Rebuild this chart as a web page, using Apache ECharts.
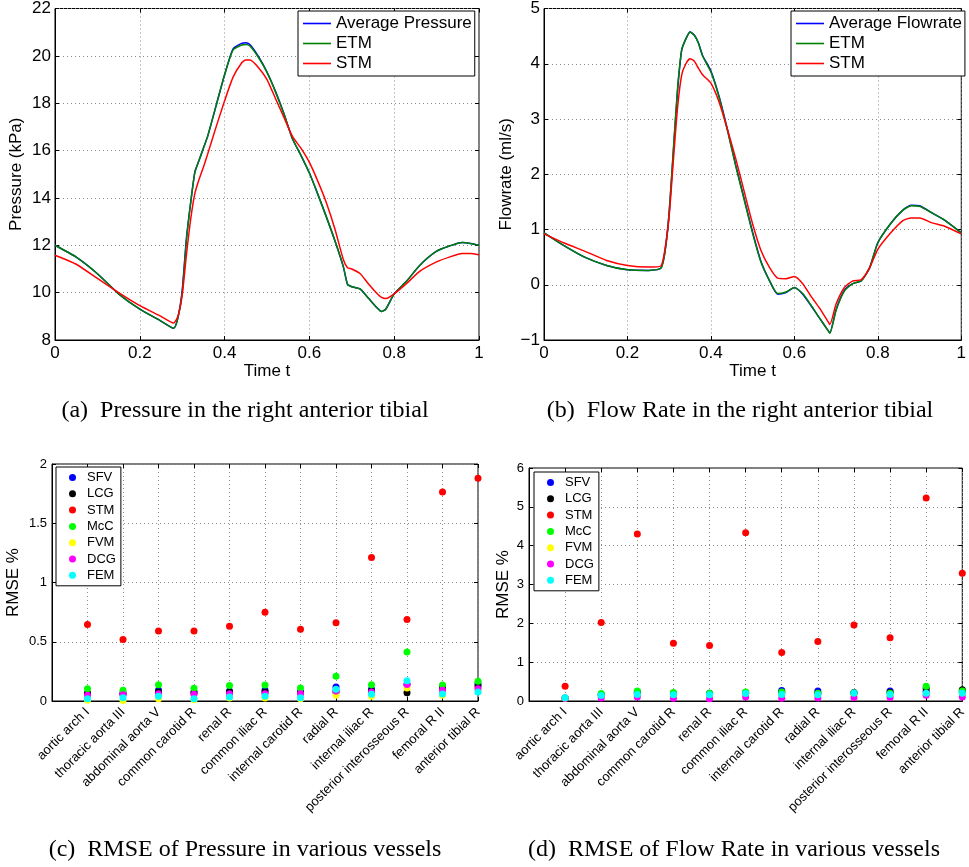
<!DOCTYPE html>
<html><head><meta charset="utf-8">
<script src="https://cdn.jsdelivr.net/npm/echarts@6/dist/echarts.min.js"></script>
<style>html,body{margin:0;padding:0;background:#fff}#c{width:969px;height:867px}</style>
</head><body><div id="c"></div>
<script>
// ---------- (a) Pressure ----------
const pressureTime = [0, 0.05, 0.1, 0.15, 0.2, 0.25, 0.28, 0.29, 0.3, 0.31, 0.32, 0.33, 0.34, 0.35, 0.36, 0.38, 0.4, 0.42, 0.44, 0.45, 0.46, 0.48, 0.5, 0.52, 0.54, 0.56, 0.58, 0.6, 0.62, 0.64, 0.66, 0.68, 0.69, 0.7, 0.72, 0.74, 0.76, 0.77, 0.78, 0.8, 0.83, 0.86, 0.9, 0.93, 0.96, 0.98, 1.0];
const avgPressure = [12.0, 11.5, 10.8, 9.95, 9.3, 8.8, 8.5, 8.95, 10.1, 12.3, 13.8, 15.1, 15.6, 16.1, 16.6, 17.9, 19.2, 20.3, 20.53, 20.55, 20.47, 19.97, 19.32, 18.5, 17.55, 16.5, 15.8, 15.05, 14.15, 13.2, 12.2, 11.1, 10.35, 10.25, 10.15, 9.75, 9.35, 9.2, 9.3, 9.95, 10.5, 11.15, 11.75, 11.97, 12.12, 12.08, 12.0];
const etmPressure = [12.0, 11.5, 10.8, 9.95, 9.3, 8.8, 8.5, 8.95, 10.0, 12.2, 13.8, 15.1, 15.6, 16.1, 16.6, 17.9, 19.2, 20.25, 20.46, 20.48, 20.42, 19.93, 19.3, 18.48, 17.55, 16.5, 15.8, 15.05, 14.15, 13.2, 12.2, 11.1, 10.35, 10.25, 10.15, 9.75, 9.35, 9.2, 9.3, 9.95, 10.5, 11.15, 11.75, 11.97, 12.12, 12.08, 12.0];
const stmPressure = [11.58, 11.2, 10.6, 10.0, 9.45, 9.0, 8.72, 9.0, 9.9, 11.6, 13.1, 14.2, 14.8, 15.3, 15.85, 17.0, 18.1, 19.1, 19.7, 19.82, 19.82, 19.5, 19.0, 18.2, 17.4, 16.6, 16.1, 15.5, 14.7, 13.8, 12.7, 11.4, 11.05, 11.0, 10.8, 10.35, 9.95, 9.8, 9.75, 9.95, 10.4, 10.9, 11.3, 11.5, 11.65, 11.65, 11.6];

// ---------- (b) Flow rate ----------
const flowTime = [0, 0.05, 0.1, 0.15, 0.2, 0.25, 0.28, 0.29, 0.3, 0.31, 0.32, 0.33, 0.34, 0.35, 0.36, 0.37, 0.38, 0.4, 0.42, 0.44, 0.46, 0.48, 0.5, 0.52, 0.54, 0.56, 0.58, 0.6, 0.62, 0.64, 0.66, 0.68, 0.685, 0.7, 0.72, 0.74, 0.76, 0.78, 0.8, 0.83, 0.86, 0.88, 0.9, 0.93, 0.96, 1.0];
const avgFlow = [0.94, 0.7, 0.49, 0.35, 0.27, 0.26, 0.3, 0.6, 1.3, 2.4, 3.5, 4.25, 4.45, 4.58, 4.52, 4.38, 4.15, 3.87, 3.4, 2.8, 2.15, 1.55, 0.95, 0.42, 0.08, -0.17, -0.14, -0.05, -0.17, -0.38, -0.6, -0.82, -0.87, -0.45, -0.1, 0.02, 0.07, 0.3, 0.76, 1.1, 1.35, 1.44, 1.43, 1.3, 1.17, 0.94];
const etmFlow = [0.94, 0.7, 0.49, 0.35, 0.27, 0.26, 0.3, 0.6, 1.32, 2.45, 3.55, 4.25, 4.45, 4.57, 4.52, 4.37, 4.14, 3.85, 3.38, 2.78, 2.13, 1.53, 0.93, 0.41, 0.08, -0.16, -0.13, -0.05, -0.16, -0.37, -0.6, -0.82, -0.88, -0.46, -0.11, 0.02, 0.07, 0.3, 0.76, 1.1, 1.35, 1.43, 1.42, 1.3, 1.17, 0.94];
const stmFlow = [0.92, 0.75, 0.6, 0.44, 0.35, 0.32, 0.34, 0.65, 1.25, 2.25, 3.2, 3.8, 4.0, 4.09, 4.05, 3.92, 3.8, 3.65, 3.3, 2.8, 2.27, 1.68, 1.1, 0.62, 0.32, 0.12, 0.11, 0.15, 0.02, -0.21, -0.42, -0.66, -0.72, -0.35, -0.05, 0.07, 0.09, 0.3, 0.64, 0.93, 1.16, 1.21, 1.21, 1.12, 1.06, 0.92];

// ---------- (c)/(d) RMSE ----------
const vessels = ['aortic arch I', 'thoracic aorta III', 'abdominal aorta V', 'common carotid R', 'renal R', 'common iliac R', 'internal carotid R', 'radial R', 'internal iliac R', 'posterior interosseous R', 'femoral R II', 'anterior tibial R'];
const methods = ['SFV', 'LCG', 'STM', 'McC', 'FVM', 'DCG', 'FEM'];

const pressureSFV = [0.06, 0.068, 0.09, 0.068, 0.085, 0.09, 0.076, 0.118, 0.1, 0.14, 0.118, 0.146];
const pressureLCG = [0.068, 0.06, 0.076, 0.076, 0.076, 0.076, 0.072, 0.076, 0.085, 0.07, 0.11, 0.127];
const pressureSTM = [0.645, 0.52, 0.59, 0.59, 0.63, 0.75, 0.605, 0.66, 1.21, 0.687, 1.763, 1.88];
const pressureMcC = [0.104, 0.09, 0.138, 0.107, 0.13, 0.135, 0.11, 0.208, 0.138, 0.414, 0.135, 0.166];
const pressureFVM = [0.006, 0.005, 0.02, 0.01, 0.025, 0.025, 0.02, 0.048, 0.04, 0.11, 0.048, 0.09];
const pressureDCG = [0.048, 0.053, 0.062, 0.056, 0.062, 0.062, 0.062, 0.085, 0.076, 0.14, 0.09, 0.104];
const pressureFEM = [0.02, 0.028, 0.04, 0.02, 0.034, 0.04, 0.028, 0.1, 0.056, 0.17, 0.06, 0.076];

const flowSFV = [0.08, 0.17, 0.23, 0.2, 0.2, 0.22, 0.27, 0.26, 0.22, 0.26, 0.25, 0.24];
const flowLCG = [0.07, 0.15, 0.2, 0.17, 0.17, 0.2, 0.22, 0.2, 0.2, 0.22, 0.32, 0.29];
const flowSTM = [0.38, 2.02, 4.3, 1.49, 1.43, 4.33, 1.25, 1.53, 1.96, 1.63, 5.23, 3.29];
const flowMcC = [0.08, 0.19, 0.26, 0.22, 0.2, 0.23, 0.23, 0.2, 0.21, 0.2, 0.38, 0.26];
const flowFVM = [0.07, 0.12, 0.15, 0.12, 0.12, 0.15, 0.15, 0.14, 0.15, 0.15, 0.18, 0.16];
const flowDCG = [0.07, 0.08, 0.1, 0.07, 0.06, 0.1, 0.07, 0.08, 0.09, 0.09, 0.15, 0.1];
const flowFEM = [0.086, 0.14, 0.17, 0.16, 0.16, 0.19, 0.17, 0.16, 0.2, 0.17, 0.2, 0.2];

const xTicksTop = [0, 0.2, 0.4, 0.6, 0.8, 1];
const pressureTicks = [8, 10, 12, 14, 16, 18, 20, 22];
const flowTicks = [-1, 0, 1, 2, 3, 4, 5];
const rmsePTicks = [0, 0.5, 1, 1.5, 2];
const rmseFTicks = [0, 1, 2, 3, 4, 5, 6];

const captions = ['(a)  Pressure in the right anterior tibial', '(b)  Flow Rate in the right anterior tibial', '(c)  RMSE of Pressure in various vessels', '(d)  RMSE of Flow Rate in various vessels'];

// ---------- styling ----------
const SANS = '"Liberation Sans", Arial, Helvetica, sans-serif';
const SERIF = '"Liberation Serif", "Times New Roman", serif';
const methodColors = {SFV: '#0000ff', LCG: '#000000', STM: '#ff0000', McC: '#00ff00', FVM: '#ffff00', DCG: '#ff00ff', FEM: '#00ffff'};
const lineColors = {avg: '#0000ff', etm: '#008000', stm: '#ff0000'};
const pressureRmse = {SFV: pressureSFV, LCG: pressureLCG, STM: pressureSTM, McC: pressureMcC, FVM: pressureFVM, DCG: pressureDCG, FEM: pressureFEM};
const flowRmse = {SFV: flowSFV, LCG: flowLCG, STM: flowSTM, McC: flowMcC, FVM: flowFVM, DCG: flowDCG, FEM: flowFEM};

const grids = [
  {left: 55, top: 6, width: 424, height: 334},
  {left: 544, top: 7, width: 423, height: 333},
  {left: 52, top: 464, width: 426, height: 237},
  {left: 529, top: 468, width: 438, height: 233}
];
grids.forEach(g => { g.show = true; g.borderColor = '#000'; g.borderWidth = 1; g.backgroundColor = 'transparent'; });

const gridLine = {show: true, lineStyle: {color: '#8c8c8c', type: [1, 3], width: 1}};
const tick = {show: true, inside: true, length: 4, lineStyle: {color: '#000'}};
const fmtNum = v => (v < 0 ? '\u2212' + Math.abs(v) : String(v));

function range(ticks) { return {min: ticks[0], max: ticks[ticks.length - 1], interval: ticks[1] - ticks[0]}; }

const xAxes = [], yAxes = [];
xAxes.push(Object.assign({type: 'value', gridIndex: 0, position: 'bottom', name: 'Time t', nameLocation: 'middle', nameGap: 22,
  nameTextStyle: {fontFamily: SANS, fontSize: 17, color: '#000'},
  axisLine: {show: true, onZero: false, lineStyle: {color: '#000'}}, axisTick: tick, splitLine: gridLine,
  axisLabel: {fontFamily: SANS, fontSize: 17, color: '#000', margin: 5, formatter: fmtNum}}, range(xTicksTop)));
xAxes.push(Object.assign({}, xAxes[0], {gridIndex: 1}));
const catAxis = {type: 'value', position: 'bottom', min: 0, max: vessels.length, interval: 1,
  axisLine: {show: true, onZero: false, lineStyle: {color: '#000'}}, axisTick: tick, splitLine: gridLine,
  axisLabel: {fontFamily: SANS, fontSize: 13, color: '#000', rotate: 45, margin: 9, formatter: v => vessels[v - 1] || ''}};
xAxes.push(Object.assign({}, catAxis, {gridIndex: 2}));
xAxes.push(Object.assign({}, catAxis, {gridIndex: 3}));
const yBase = {type: 'value', position: 'left', nameLocation: 'middle', nameRotate: 90,
  nameTextStyle: {fontFamily: SANS, fontSize: 17, color: '#000'},
  axisLine: {show: true, onZero: false, lineStyle: {color: '#000'}}, axisTick: tick, splitLine: gridLine};
yAxes.push(Object.assign({}, yBase, range(pressureTicks), {gridIndex: 0, name: 'Pressure (kPa)', nameGap: 30,
  axisLabel: {fontFamily: SANS, fontSize: 17, color: '#000', margin: 4, formatter: fmtNum}}));
yAxes.push(Object.assign({}, yBase, range(flowTicks), {gridIndex: 1, name: 'Flowrate (ml/s)', nameGap: 29,
  axisLabel: {fontFamily: SANS, fontSize: 17, color: '#000', margin: 4, formatter: fmtNum}}));
yAxes.push(Object.assign({}, yBase, range(rmsePTicks), {gridIndex: 2, name: 'RMSE %', nameGap: 30,
  axisLabel: {fontFamily: SANS, fontSize: 13, color: '#000', margin: 5, formatter: fmtNum}}));
yAxes.push(Object.assign({}, yBase, range(rmseFTicks), {gridIndex: 3, name: 'RMSE %', nameGap: 17,
  axisLabel: {fontFamily: SANS, fontSize: 13, color: '#000', margin: 5, formatter: fmtNum}}));
for (let g = 0; g < 4; g++) {
  const xm = xAxes[g], ym = yAxes[g];
  xAxes.push({type: 'value', gridIndex: g, position: 'top', min: xm.min, max: xm.max, interval: xm.interval,
    axisLine: {show: false, onZero: false}, axisTick: tick, axisLabel: {show: false}, splitLine: {show: false}});
  yAxes.push({type: 'value', gridIndex: g, position: 'right', min: ym.min, max: ym.max, interval: ym.interval,
    axisLine: {show: false, onZero: false}, axisTick: tick, axisLabel: {show: false}, splitLine: {show: false}});
}

function lineSeries(name, t, v, color, gi, z) {
  return {type: 'line', name: name, xAxisIndex: gi, yAxisIndex: gi, data: t.map((x, i) => [x, v[i]]),
    symbol: 'none', showSymbol: false, smooth: 0.2, z: z, lineStyle: {color: color, width: 1.5}, itemStyle: {color: color}};
}
const series = [
  lineSeries('Average Pressure', pressureTime, avgPressure, lineColors.avg, 0, 2),
  lineSeries('ETM', pressureTime, etmPressure, lineColors.etm, 0, 3),
  lineSeries('STM', pressureTime, stmPressure, lineColors.stm, 0, 4),
  lineSeries('Average Flowrate', flowTime, avgFlow, lineColors.avg, 1, 2),
  lineSeries('ETM', flowTime, etmFlow, lineColors.etm, 1, 3),
  lineSeries('STM', flowTime, stmFlow, lineColors.stm, 1, 4)
];
[[pressureRmse, 2], [flowRmse, 3]].forEach(([set, gi]) => {
  methods.forEach((m, k) => {
    series.push({type: 'scatter', name: m, xAxisIndex: gi, yAxisIndex: gi, symbol: 'circle', symbolSize: 7, z: 2 + k,
      itemStyle: {color: methodColors[m], opacity: 1}, data: set[m].map((v, i) => [i + 1, v])});
  });
});

const topLegend = (names, left) => ({orient: 'vertical', left: left, top: 11,
  data: names.map((n, i) => ({name: n, icon: 'rect', itemStyle: {color: [lineColors.avg, lineColors.etm, lineColors.stm][i]}})),
  itemWidth: 28, itemHeight: 1.6, itemGap: 3,
  padding: [4, 3, 4, 5], borderColor: '#000', borderWidth: 1, backgroundColor: '#fff', selectedMode: false,
  textStyle: {fontFamily: SANS, fontSize: 17, color: '#000', lineHeight: 17}});
const dotLegend = (left, top) => ({orient: 'vertical', left: left, top: top, itemWidth: 7, itemHeight: 7, itemGap: 3.3,
  data: methods.map(m => ({name: m, icon: 'circle', itemStyle: {color: methodColors[m]}})),
  padding: [4, 5, 4, 13], borderColor: '#000', borderWidth: 1, backgroundColor: '#fff', selectedMode: false,
  textStyle: {fontFamily: SANS, fontSize: 13, color: '#000', lineHeight: 13, padding: [0, 0, 0, 6]}});

const capPos = [[245, 423], [740, 423], [245, 862], [734, 862]];
const graphic = captions.map((c, i) => ({type: 'text', x: capPos[i][0], y: capPos[i][1],
  style: {text: c, fontFamily: SERIF, fontSize: 24, fill: '#000', textAlign: 'center', textVerticalAlign: 'bottom'}}));

const chart = echarts.init(document.getElementById('c'), null, {renderer: 'canvas'});
chart.setOption({
  animation: false,
  backgroundColor: '#fff',
  grid: grids,
  xAxis: xAxes,
  yAxis: yAxes,
  legend: [
    topLegend(['Average Pressure', 'ETM', 'STM'], 298),
    topLegend(['Average Flowrate', 'ETM', 'STM'], 791),
    dotLegend(56, 467),
    dotLegend(534, 472)
  ],
  graphic: graphic,
  series: series
});
</script></body></html>
